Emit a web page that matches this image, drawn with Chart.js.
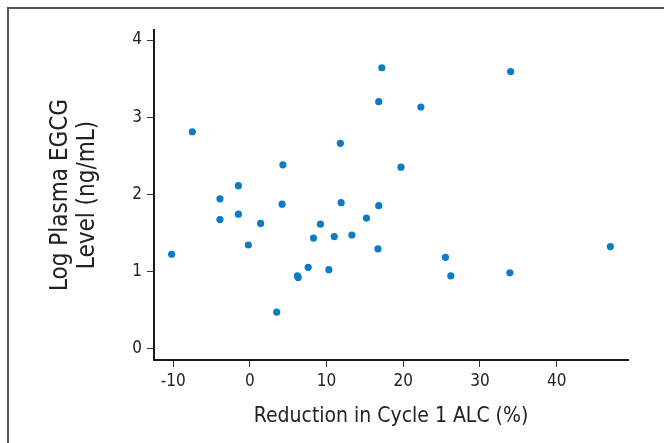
<!DOCTYPE html>
<html>
<head>
<meta charset="utf-8">
<script src="https://cdn.jsdelivr.net/npm/chart.js@4"></script>
<style>
html, body { margin: 0; padding: 0; background: #fff; }
#wrap { position: relative; width: 664px; height: 443px; overflow: hidden; }
#frame { position: absolute; left: 7px; top: 7px; width: 700px; height: 500px;
  border-left: 2px solid #555; border-top: 2px solid #555; pointer-events: none; }
canvas { position: absolute; left: 0; top: 0; }
</style>
</head>
<body>
<div id="wrap">
<div id="frame"></div>
<canvas id="chart" width="664" height="443"></canvas>
</div>
<script>
// values
const reduction = [-7.5, 17.2, 16.8, 11.8, 4.3, -1.5, -3.9, 19.7, 34.0, 22.3,
  4.2, 11.9, 16.8, -3.9, -1.5, 1.4, 9.2, 15.2, 8.3, 11.0,
  13.3, -0.2, 16.7, -10.2, 7.6, 10.3, 6.2, 6.3, 3.5, 25.5,
  26.2, 33.9, 47.0]
const egcg = [2.81, 3.64, 3.20, 2.66, 2.38, 2.11, 1.94, 2.35, 3.59, 3.13,
  1.87, 1.89, 1.85, 1.67, 1.74, 1.62, 1.61, 1.69, 1.43, 1.45,
  1.47, 1.34, 1.29, 1.22, 1.05, 1.02, 0.94, 0.92, 0.47, 1.18,
  0.94, 0.98, 1.32]

const xTicks = [-10, 0, 10, 20, 30, 40]
const yTicks = [0, 1, 2, 3, 4]

const xTitle = "Reduction in Cycle 1 ALC (%)"
const yTitle = ["Log Plasma EGCG", "Level (ng/mL)"]

const points = reduction.map((x, i) => ({ x: x, y: egcg[i] }))

const FONT = "'Liberation Sans Narrow', 'DejaVu Sans Condensed', sans-serif"

new Chart(document.getElementById("chart"), {
  type: "scatter",
  data: {
    datasets: [{
      data: points,
      backgroundColor: "#0a7cc7",
      borderColor: "#0a7cc7",
      borderWidth: 0,
      pointRadius: 3.6
    }]
  },
  options: {
    responsive: false,
    animation: false,
    events: [],
    layout: { padding: { left: 0, top: 30, right: 36, bottom: 0 } },
    plugins: { legend: { display: false }, tooltip: { enabled: false } },
    scales: {
      x: {
        type: "linear",
        min: -12.5,
        max: 49.3,
        afterBuildTicks: s => { s.ticks = xTicks.map(v => ({ value: v })) },
        afterFit: s => { s.height = 83 },
        border: { display: true, color: "#1a1a1a", width: 2 },
        grid: { drawOnChartArea: false, drawTicks: true, tickLength: 7, tickColor: "#333", tickWidth: 1 },
        ticks: { color: "#222", padding: 4, font: { family: FONT, size: 17 } },
        title: {
          display: true, text: xTitle, color: "#222",
          font: { family: FONT, size: 21, lineHeight: 1.2 },
          padding: { top: 0, bottom: 14 }
        }
      },
      y: {
        type: "linear",
        min: -0.152,
        max: 4.13,
        afterBuildTicks: s => { s.ticks = yTicks.map(v => ({ value: v })) },
        afterFit: s => { s.width = 154 },
        border: { display: true, color: "#1a1a1a", width: 2 },
        grid: { drawOnChartArea: false, drawTicks: true, tickLength: 7, tickColor: "#333", tickWidth: 1 },
        ticks: { color: "#222", padding: 5, font: { family: FONT, size: 17 } },
        title: {
          display: true, text: yTitle, color: "#222",
          font: { family: FONT, size: 24, lineHeight: 1.1 },
          padding: { top: 48, bottom: 0 }
        }
      }
    }
  }
})
</script>
</body>
</html>
